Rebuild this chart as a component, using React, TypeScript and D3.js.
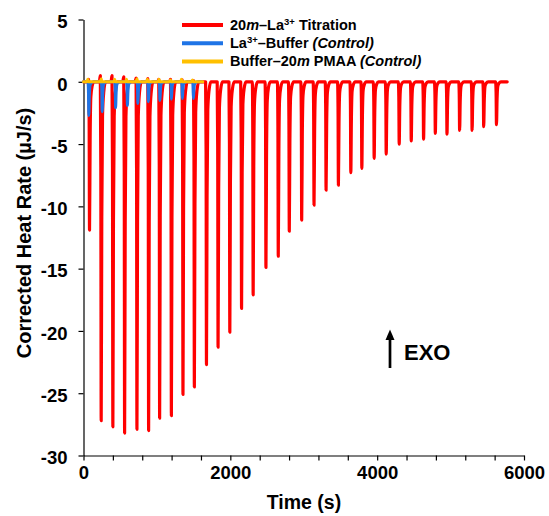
import React, { useEffect, useRef } from 'react'
import * as d3 from 'd3'

// titration run: time (s) where each injection peak bottoms out, and its minimum (µJ/s)
const titrationTimes = [82, 241, 400, 560, 728, 887, 1037, 1197, 1355, 1510, 1675, 1833, 1993, 2153, 2311, 2485, 2653, 2803, 2972, 3140, 3304, 3472, 3641, 3791, 3959, 4123, 4300, 4464, 4632, 4792, 4951, 5123, 5293, 5451, 5625]
const titrationMins = [-11.9, -27.2, -27.7, -28.2, -27.9, -28.0, -27.0, -26.8, -25.1, -24.5, -22.7, -21.3, -20.1, -18.2, -17.1, -14.9, -14.0, -12.0, -11.1, -9.9, -8.7, -8.3, -7.3, -6.95, -6.15, -5.8, -5.0, -4.75, -4.6, -4.15, -4.2, -3.9, -3.9, -3.6, -3.45]
// small positive blip just before the first injections
const titrationBumps = [0.2, 0.5, 0.5, 0.4, 0.3, 0.25, 0.2, 0.2, 0.15, 0.1]
const titrationEnd = 5771

// La3+ into buffer control
const bufferTimes = [72, 254, 437, 598, 741, 884, 1041, 1197, 1347, 1497]
const bufferMins = [-2.7, -2.4, -2.1, -1.9, -1.75, -1.6, -1.5, -1.4, -1.35, -1.35]
const bufferEnd = 1610

// buffer into PMAA control (almost flat)
const pmaaTimes = [72, 254, 437, 598, 741, 884, 1041, 1197, 1347, 1497]
const pmaaBumps = [0.2, 0.25, 0.2, 0.2, 0.25, 0.2, 0.2, 0.15, 0.2, 0.15]
const pmaaEnd = 1625

// shape of one injection peak: [seconds from bottom, share of minimum, share of blip]
const peakShape = [[-25, 0, 0], [-12, 0, 1], [-5, 0.25, 0], [0, 1, 0], [8, 0.4, 0], [18, 0.1, 0], [35, 0.03, 0], [60, 0, 0]]

const xTickValues = [0, 400, 800, 1200, 1600, 2000, 2400, 2800, 3200, 3600, 4000, 4400, 4800, 5200, 5600, 6000]
const xLabelValues = [0, 2000, 4000, 6000]
const yTickValues = [5, 0, -5, -10, -15, -20, -25, -30]

const seriesColors = ['#ff0000', '#1f74e6', '#ffc000']

// legend entries as text pieces
const legendItems = [
    [{ t: '20' }, { t: 'm', i: true }, { t: '\u2013La' }, { t: '3+', sup: true }, { t: ' Titration' }],
    [{ t: 'La' }, { t: '3+', sup: true }, { t: '\u2013Buffer ' }, { t: '(Control)', i: true }],
    [{ t: 'Buffer\u201320' }, { t: 'm', i: true }, { t: ' PMAA ' }, { t: '(Control)', i: true }]
]

const FONT = "'Liberation Sans', Arial, Helvetica, sans-serif"

function buildTrace(times, mins, bumps, end) {
    const pts = [[0, 0]]
    times.forEach((t, i) => {
        const m = mins ? mins[i] : 0
        const b = bumps && bumps[i] ? bumps[i] : 0
        peakShape.forEach(([dt, f, fb]) => {
            pts.push([t + dt, m * f + b * fb])
        })
    })
    pts.push([end, 0])
    return pts
}

function App() {
    const chartRef = useRef(null)

    useEffect(() => {
        drawChart()
    }, [])

    function drawChart() {
        const width = 549, height = 516

        d3.select(chartRef.current).selectAll('*').remove()

        const svg = d3.select(chartRef.current)
            .append('svg')
            .attr('width', width)
            .attr('height', height)
            .style('display', 'block')
            .style('background', '#fff')
            .style('font-family', FONT)

        const x = d3.scaleLinear().domain([0, 6000]).range([83.5, 524])
        const y = d3.scaleLinear().domain([-30, 5]).range([455.5, 19.5])

        // x axis
        const xAxis = svg.append('g')
            .attr('transform', 'translate(0,455.5)')
            .call(d3.axisBottom(x)
                .tickValues(xTickValues)
                .tickSize(5)
                .tickSizeOuter(0)
                .tickPadding(5)
                .tickFormat(d => xLabelValues.includes(d) ? String(d) : ''))
        xAxis.selectAll('text')
            .style('font-family', FONT)
            .style('font-size', '18.5px')
            .style('font-weight', 'bold')
            .attr('fill', '#000')

        // y axis
        const yAxis = svg.append('g')
            .attr('transform', 'translate(83.5,0)')
            .call(d3.axisLeft(y)
                .tickValues(yTickValues)
                .tickSize(5)
                .tickSizeOuter(0)
                .tickPadding(11)
                .tickFormat(d => String(d)))
        yAxis.selectAll('text')
            .attr('dy', '0.45em')
            .style('font-family', FONT)
            .style('font-size', '18.5px')
            .style('font-weight', 'bold')
            .attr('fill', '#000')

        svg.selectAll('.domain, .tick line').attr('stroke', '#000').attr('stroke-width', 1.2)

        // traces
        const line = d3.line()
            .x(d => x(d[0]))
            .y(d => y(d[1]))
            .curve(d3.curveMonotoneX)

        const traces = [
            buildTrace(titrationTimes, titrationMins, titrationBumps, titrationEnd),
            buildTrace(bufferTimes, bufferMins, null, bufferEnd),
            buildTrace(pmaaTimes, null, pmaaBumps, pmaaEnd)
        ]

        svg.append('g')
            .selectAll('path')
            .data(traces)
            .enter()
            .append('path')
            .attr('d', d => line(d))
            .attr('fill', 'none')
            .attr('stroke', (d, i) => seriesColors[i])
            .attr('stroke-width', (d, i) => i === 0 ? 3.2 : 3)
            .attr('stroke-linejoin', 'round')
            .attr('stroke-linecap', 'round')

        // axis titles
        svg.append('text')
            .attr('x', 304)
            .attr('y', 509)
            .attr('text-anchor', 'middle')
            .style('font-size', '19.5px')
            .style('font-weight', 'bold')
            .text('Time (s)')

        svg.append('text')
            .attr('transform', 'translate(31,233) rotate(-90)')
            .attr('text-anchor', 'middle')
            .style('font-size', '20px')
            .style('font-weight', 'bold')
            .text('Corrected Heat Rate (\u00b5J/s)')

        // legend
        const legend = svg.append('g')
        legendItems.forEach((parts, i) => {
            const ly = 25 + i * 18.3
            legend.append('line')
                .attr('x1', 182).attr('x2', 223)
                .attr('y1', ly).attr('y2', ly)
                .attr('stroke', seriesColors[i])
                .attr('stroke-width', 4)
            const txt = legend.append('text')
                .attr('x', 230)
                .attr('y', ly + 4.5)
                .style('font-size', '14.5px')
                .style('font-weight', 'bold')
            let shifted = false
            parts.forEach(p => {
                const ts = txt.append('tspan').text(p.t)
                if (p.i) ts.style('font-style', 'italic')
                if (p.sup) {
                    ts.attr('dy', -5).style('font-size', '9.5px')
                    shifted = true
                } else if (shifted) {
                    ts.attr('dy', 5)
                    shifted = false
                }
            })
        })

        // EXO marker
        svg.append('line')
            .attr('x1', 390).attr('x2', 390)
            .attr('y1', 368).attr('y2', 338)
            .attr('stroke', '#000')
            .attr('stroke-width', 2.7)
        svg.append('path')
            .attr('d', 'M385.5,340 L394.5,340 L390,329.5 Z')
            .attr('fill', '#000')
        svg.append('text')
            .attr('x', 404)
            .attr('y', 359.5)
            .style('font-size', '22px')
            .style('font-weight', 'bold')
            .text('EXO')
    }

    return (
        <div style={{ position: 'absolute', left: 0, top: 0 }}>
            <div ref={chartRef}></div>
        </div>
    )
}

export default App
